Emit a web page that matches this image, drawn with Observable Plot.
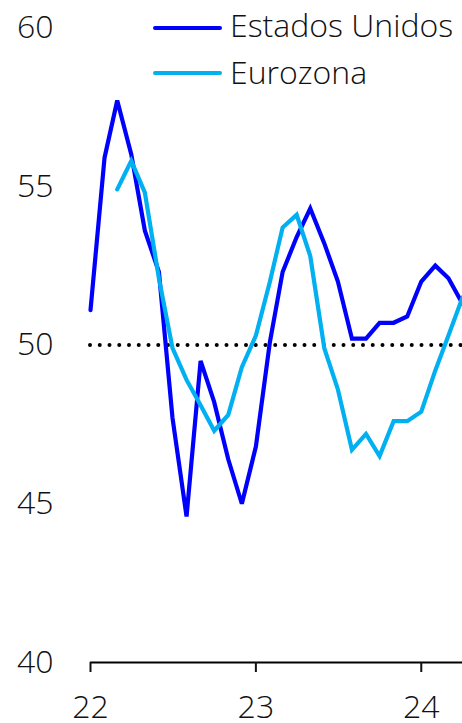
<!DOCTYPE html>
<html><head><meta charset="utf-8">
<script src="https://cdn.jsdelivr.net/npm/d3@7"></script>
<script src="https://cdn.jsdelivr.net/npm/@observablehq/plot@0.6"></script>
<style>
body{margin:0;background:#fff;}
#wrap{position:relative;width:462px;height:723px;font-family:"Open Sans",sans-serif;}
.sw{position:absolute;left:153px;width:69px;height:4px;border-radius:2px;}
.lt{position:absolute;left:230px;font-size:32px;line-height:32px;font-weight:300;color:#111;white-space:nowrap;}
</style></head><body>
<div id="wrap"></div>
<script>
const months = ["2022-01","2022-02","2022-03","2022-04","2022-05","2022-06","2022-07","2022-08","2022-09","2022-10","2022-11","2022-12",
"2023-01","2023-02","2023-03","2023-04","2023-05","2023-06","2023-07","2023-08","2023-09","2023-10","2023-11","2023-12",
"2024-01","2024-02","2024-03","2024-04"];
const estadosUnidos = [51.1,55.9,57.7,56.0,53.6,52.3,47.7,44.6,49.5,48.2,46.4,45.0,46.8,50.1,52.3,53.4,54.3,53.2,52.0,50.2,50.2,50.7,50.7,50.9,52.0,52.5,52.1,51.3];
const eurozona = [null,null,54.9,55.8,54.8,52.1,49.9,48.9,48.1,47.3,47.8,49.3,50.3,52.0,53.7,54.1,52.8,49.9,48.6,46.7,47.2,46.5,47.6,47.6,47.9,49.2,50.3,51.5];
const seriesNames = ["Estados Unidos","Eurozona"];
const seriesColors = ["#0000FF","#00B0F0"];
const yTicks = [40,45,50,55,60];
const xTicks = ["2022-01","2023-01","2024-01"];
const refLevel = 50;

const parse = d3.utcParse("%Y-%m");
const rows = [];
months.forEach((m,i)=>{
  rows.push({date:parse(m),value:estadosUnidos[i],serie:seriesNames[0]});
  if(eurozona[i]!=null) rows.push({date:parse(m),value:eurozona[i],serie:seriesNames[1]});
});
const yearFmt = d=>String(d.getUTCFullYear()).slice(2);

const chart = Plot.plot({
  width:462, height:723,
  marginLeft:90, marginRight:0, marginTop:27, marginBottom:61,
  style:{fontFamily:"'Open Sans', sans-serif", fontSize:"32px", fontWeight:300, color:"#111", background:"#fff"},
  x:{type:"utc", domain:[parse(months[0]), parse(months[months.length-1])], label:null},
  y:{domain:[40,60], label:null},
  color:{domain:seriesNames, range:seriesColors},
  marks:[
    Plot.ruleY([refLevel],{stroke:"#000",strokeWidth:4,strokeDasharray:"0 9.75",strokeLinecap:"round"}),
    Plot.ruleY([40],{stroke:"#000",strokeWidth:2}),
    Plot.lineY(rows,{x:"date",y:"value",z:"serie",stroke:"serie",strokeWidth:4.2,strokeLinejoin:"miter",strokeMiterlimit:3}),
    Plot.axisX({tickSize:10,tickPadding:23,strokeWidth:2,ticks:xTicks.map(parse),tickFormat:yearFmt}),
    Plot.axisY({tickSize:0,tickPadding:37,ticks:yTicks})
  ]
});
const wrap = document.getElementById("wrap");
wrap.appendChild(chart);
const swY=[26,71], txtTop=[9,56];
seriesNames.forEach((n,i)=>{
  const s=document.createElement("div");
  s.className="sw"; s.style.top=swY[i]+"px"; s.style.background=seriesColors[i];
  wrap.appendChild(s);
  const t=document.createElement("div");
  t.className="lt"; t.style.top=txtTop[i]+"px"; t.textContent=n;
  wrap.appendChild(t);
});
</script></body></html>
